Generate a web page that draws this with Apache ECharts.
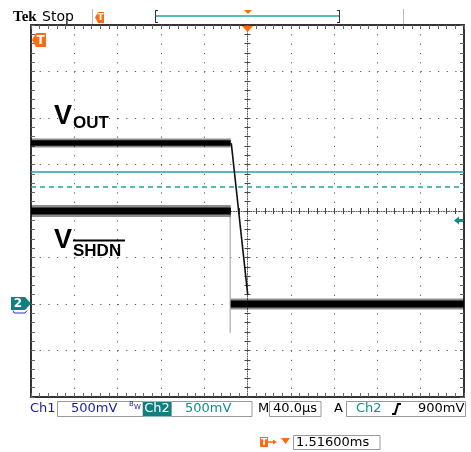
<!DOCTYPE html>
<html><head><meta charset="utf-8">
<script src="https://cdn.jsdelivr.net/npm/echarts@6/dist/echarts.min.js"></script>
<style>html,body{margin:0;padding:0;background:#fff}#c{width:471px;height:452px}</style>
</head><body><div id="c"></div>
<script>
// time in microseconds (40 us/div), volts (500 mV/div, referenced to Ch2 ground)
const voutHighT = [-200, -15.5];
const voutHighV = [1.73, 1.73];
const voutFallT = [-15.0, 0.2];
const voutFallV = [1.73, 0.10];
const vshdnHighT = [-200, -15.5];
const vshdnHighV = [1.00, 1.00];
const vshdnEdgeT = [-16.0, -16.0];
const vshdnEdgeV = [1.00, -0.31];
const lowT = [-15.5, 200];
const lowV = [0.0, 0.0];
const trigSolid = 1.42;
const trigDashed = 1.26;
const xMin = -200, xMax = 200, xStep = 40;
const yMin = -1, yMax = 3, yStep = 0.5;

const pairs = (t, v) => t.map((x, i) => [x, v[i]]);
const TEAL = '#21a3a3';
const ORANGE = '#ff6a13';
const BLUE = '#1c1c9c';

const chart = echarts.init(document.getElementById('c'), null, {renderer: 'canvas'});

const L = 31, T = 25, W = 433, H = 372;
function xa(grid, pos, extra) {
  return Object.assign({type: 'value', gridIndex: grid, position: pos, min: xMin, max: xMax, interval: xStep,
    axisLabel: {show: false}, splitLine: {show: false}}, extra);
}
function ya(grid, pos, extra) {
  return Object.assign({type: 'value', gridIndex: grid, position: pos, min: yMin, max: yMax, interval: yStep,
    axisLabel: {show: false}, splitLine: {show: false}}, extra);
}
const borderLine = {show: true, onZero: false, lineStyle: {color: '#333', width: 2}};
const borderTick = {show: true, inside: true, length: 4, lineStyle: {color: '#666', width: 1}};
const borderMinor = {show: true, splitNumber: 5, length: 4, lineStyle: {color: '#666', width: 1}};
const centerLine = {show: true, onZero: false, lineStyle: {color: '#555', width: 1, type: [1, 1.5]}};
const noLine = {show: false, onZero: false};
const centerTick = {show: true, inside: true, length: 3, lineStyle: {color: '#444', width: 1}};
const centerMinor = {show: true, splitNumber: 5, length: 3, lineStyle: {color: '#444', width: 1}};

function txt(text, x, y, font, fill, align) {
  return {type: 'text', z: 100, style: {text, x, y, font, fill, textAlign: align || 'left', align: align || 'left',
    textVerticalAlign: 'middle', verticalAlign: 'middle'}};
}
function line(x1, y1, x2, y2, stroke, w) {
  return {type: 'line', z: 100, shape: {x1, y1, x2, y2}, style: {stroke, lineWidth: w || 1}};
}
function poly(points, fill) {
  return {type: 'polygon', z: 100, shape: {points}, style: {fill}};
}
function box(x, y, w, h, stroke, fill) {
  return {type: 'rect', z: 99, shape: {x, y, width: w, height: h}, style: {stroke: stroke || 'none', fill: fill || 'none', lineWidth: 1}};
}
const SF = '"DejaVu Sans", sans-serif';
const BF = 'bold 27px "Liberation Sans", Arial, sans-serif';
const SBF = 'bold 17px "Liberation Sans", Arial, sans-serif';

const graphics = [
  // top bar
  txt('Tek', 13, 17, 'bold 15px "Liberation Serif", serif', '#000'),
  txt('Stop', 42, 17, '14px ' + SF, '#000'),
  line(92.5, 9, 92.5, 24, '#bbb', 1),
  line(403.5, 9, 403.5, 24, '#bbb', 1),
  poly([[95, 17.5], [98, 12], [104, 12], [104, 23], [98, 23]], ORANGE),
  txt('T', 100.5, 17.8, 'bold 9px ' + SF, '#fff', 'center'),
  line(155.5, 10, 155.5, 23, '#333', 1), line(155, 10.5, 158, 10.5, '#333', 1), line(155, 22.5, 158, 22.5, '#333', 1),
  line(339.5, 10, 339.5, 23, '#333', 1), line(337, 10.5, 340, 10.5, '#333', 1), line(337, 22.5, 340, 22.5, '#333', 1),
  line(156, 16, 339, 16, TEAL, 1.5),
  poly([[244, 10], [252, 10], [248, 14]], ORANGE),
  // plot markers
  poly([[32, 40], [36, 33], [46, 33], [46, 47], [36, 47]], ORANGE),
  txt('T', 40.5, 40.5, 'bold 12px ' + SF, '#fff', 'center'),
  poly([[242, 26], [253, 26], [247.5, 32]], ORANGE),
  poly([[11, 297], [25, 297], [31, 303.5], [25, 310], [11, 310]], '#117f80'),
  txt('2', 18, 304, 'bold 12px ' + SF, '#fff', 'center'),
  {type: 'polyline', z: 100, shape: {points: [[13, 310.5], [14, 313], [25, 313], [27, 310.5]]}, style: {stroke: '#3333cc', lineWidth: 1, fill: 'none'}},
  poly([[454, 220.5], [459, 216.5], [459, 219], [463, 219], [463, 222], [459, 222], [459, 224.5]], '#118a8a'),
  // trace labels
  txt('V', 54, 117, BF, '#000'),
  txt('OUT', 73, 123, SBF, '#000'),
  txt('V', 54, 241, BF, '#000'),
  txt('SHDN', 73, 251.5, SBF, '#000'),
  line(73, 240.5, 125, 240.5, '#000', 2),
  // status row
  txt('Ch1', 30, 409, '13px ' + SF, BLUE),
  box(57.5, 401.5, 85.5, 15, '#999'),
  txt('500mV', 71, 409, '13px ' + SF, BLUE),
  txt('B', 129, 404, '7px ' + SF, BLUE),
  txt('W', 134, 407, '7px ' + SF, BLUE),
  box(143, 401.5, 28, 15, null, '#0f7f80'),
  txt('Ch2', 157, 409, '13px ' + SF, '#fff', 'center'),
  box(171.5, 401.5, 80.5, 15, '#999'),
  txt('500mV', 185, 409, '13px ' + SF, '#128c8c'),
  txt('M', 258, 409, '13px ' + SF, '#000'),
  box(269.5, 401.5, 51.5, 15, '#999'),
  txt('40.0µs', 273, 409, '13px ' + SF, '#000'),
  txt('A', 334, 409, '13px ' + SF, '#000'),
  box(346.5, 401.5, 119, 15, '#999'),
  txt('Ch2', 356, 409, '13px ' + SF, '#128c8c'),
  {type: 'polyline', z: 100, shape: {points: [[392, 414], [395, 414], [398, 404], [401, 404]]}, style: {stroke: '#000', lineWidth: 2, fill: 'none'}},
  txt('900mV', 418, 409, '13px ' + SF, '#000'),
  // bottom row
  box(260, 437, 8, 10, null, ORANGE),
  txt('T', 264, 442.5, 'bold 9px ' + SF, '#fff', 'center'),
  line(268, 442, 274, 442, ORANGE, 1.5),
  poly([[273, 439.5], [277, 442], [273, 444.5]], ORANGE),
  poly([[281, 438], [290, 438], [285.5, 444]], ORANGE),
  box(293.5, 435.5, 86.5, 14, '#999'),
  txt('1.51600ms', 296, 443, '13px ' + SF, '#000')
];

function trace(t, v, w, color, z) {
  return {type: 'line', xAxisIndex: 0, yAxisIndex: 0, data: pairs(t, v), symbol: 'none', silent: true, z: z || 5,
    lineStyle: {width: w, color: color}};
}

const option = {
  animation: false,
  backgroundColor: '#fff',
  grid: [
    {left: L, top: T, width: W, height: H},
    {left: L, top: T, width: W, height: H / 2},
    {left: L, top: T + H / 2, width: W, height: H / 2},
    {left: L, top: T, width: W / 2, height: H},
    {left: L + W / 2, top: T, width: W / 2, height: H}
  ],
  xAxis: [
    xa(0, 'bottom', {axisLine: borderLine, axisTick: borderTick, minorTick: borderMinor,
      splitLine: {show: true, lineStyle: {color: '#555', width: 1, type: [1.2, 8.1]}}}),
    xa(0, 'top', {axisLine: borderLine, axisTick: borderTick, minorTick: borderMinor}),
    xa(1, 'bottom', {axisLine: centerLine, axisTick: centerTick, minorTick: centerMinor}),
    xa(2, 'top', {axisLine: noLine, axisTick: centerTick, minorTick: centerMinor}),
    xa(3, 'bottom', {show: false, axisLine: noLine}),
    xa(4, 'bottom', {show: false, axisLine: noLine})
  ],
  yAxis: [
    ya(0, 'left', {axisLine: borderLine, axisTick: borderTick, minorTick: borderMinor,
      splitLine: {show: true, lineStyle: {color: '#555', width: 1, type: [1.2, 7.46]}}}),
    ya(0, 'right', {axisLine: borderLine, axisTick: borderTick, minorTick: borderMinor}),
    ya(1, 'left', {show: false, axisLine: noLine}),
    ya(2, 'left', {show: false, axisLine: noLine}),
    ya(3, 'right', {axisLine: centerLine, axisTick: centerTick, minorTick: centerMinor}),
    ya(4, 'left', {axisLine: noLine, axisTick: centerTick, minorTick: centerMinor})
  ],
  series: [
    {type: 'line', xAxisIndex: 0, yAxisIndex: 0, data: [], silent: true,
      markLine: {silent: true, symbol: 'none', label: {show: false},
        data: [
          {yAxis: trigSolid, lineStyle: {color: TEAL, width: 1.5, type: 'solid'}},
          {yAxis: trigDashed, lineStyle: {color: TEAL, width: 1.5, type: [5, 4]}}
        ]}},
    trace(vshdnEdgeT, vshdnEdgeV, 1.2, '#aaa', 4),
    trace(voutHighT, voutHighV, 9, 'rgba(0,0,0,0.45)'),
    trace(voutHighT, voutHighV, 5.5, '#000'),
    trace(vshdnHighT, vshdnHighV, 12, 'rgba(0,0,0,0.45)'),
    trace(vshdnHighT, vshdnHighV, 7, '#000'),
    trace(lowT, lowV, 11, 'rgba(0,0,0,0.45)'),
    trace(lowT, lowV, 7, '#000'),
    trace(voutFallT, voutFallV, 1.6, '#111', 6)
  ],
  graphic: graphics
};
chart.setOption(option);
</script>
</body></html>
